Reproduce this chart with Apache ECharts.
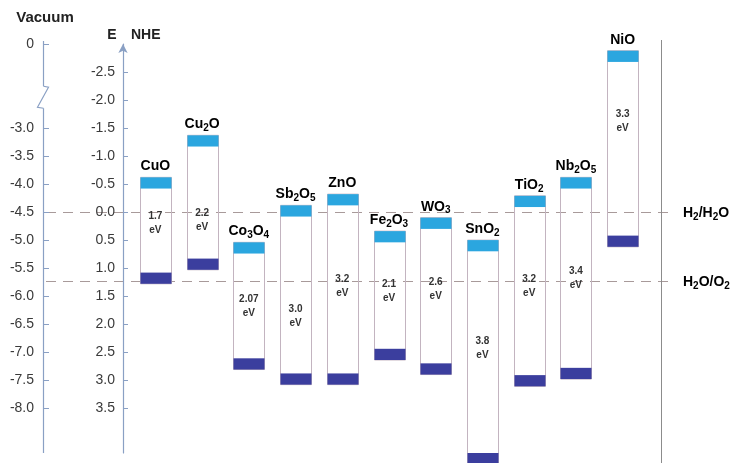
<!DOCTYPE html>
<html>
<head>
<meta charset="utf-8">
<script src="https://cdn.jsdelivr.net/npm/echarts@6/dist/echarts.min.js"></script>
<style>
  html, body { margin: 0; padding: 0; background: #ffffff; }
  #chart { width: 736px; height: 463px; }
</style>
</head>
<body>
<div id="chart"></div>
<script>
// Oxide semiconductors, left to right
const oxides = ['CuO', 'Cu2O', 'Co3O4', 'Sb2O5', 'ZnO', 'Fe2O3', 'WO3', 'SnO2', 'TiO2', 'Nb2O5', 'NiO'];
// Conduction band edge, V vs NHE
const conductionBand = [-0.52, -1.27, 0.64, -0.02, -0.22, 0.44, 0.20, 0.60, -0.19, -0.52, -2.78];
// Band gap, eV (valence band edge = conduction band edge + gap)
const bandGap = [1.7, 2.2, 2.07, 3.0, 3.2, 2.1, 2.6, 3.8, 3.2, 3.4, 3.3];
// Height of the band-gap caption inside each column, V vs NHE
const gapCaptionAt = [0.20, 0.14, 1.68, 1.86, 1.32, 1.42, 1.38, 2.43, 1.32, 1.18, -1.62];

// Axis ticks
const nheTicks = [-2.5, -2.0, -1.5, -1.0, -0.5, 0.0, 0.5, 1.0, 1.5, 2.0, 2.5, 3.0, 3.5];
const vacuumTicks = [-3.0, -3.5, -4.0, -4.5, -5.0, -5.5, -6.0, -6.5, -7.0, -7.5, -8.0];
const vacuumBreakLabel = '0';

// Water redox levels, V vs NHE
const redoxLevels = [0, 1.23];
const redoxNames = ['H2/H2O', 'H2O/O2'];

// Energy of NHE 0 on the vacuum scale
const NHE_ZERO_VACUUM = -4.5;
const NHE_MIN = -3.0, NHE_MAX = 4.3;
const VAC_TOP = NHE_ZERO_VACUUM - NHE_MIN;
const VAC_BOTTOM = NHE_ZERO_VACUUM - NHE_MAX;

const FONT = '"Liberation Sans", Arial, Helvetica, sans-serif';
const BAND_HALF = 0.1;          // half thickness of the band-edge strips (V)
const CB_COLOR = '#2ba6df';
const VB_COLOR = '#3b3e9e';
const AXIS_COLOR = '#8aa0c4';
const DASH_COLOR = '#a89a9a';

// Chemical formula -> rich text with subscript digits
function chem(s) {
  return s.split(/(\d+)/).filter(Boolean)
    .map(t => /^\d+$/.test(t) ? '{s|' + t + '}' : '{b|' + t + '}').join('');
}
const chemRich = {
  b: { fontFamily: FONT, fontSize: 14, fontWeight: 'bold', color: '#111111', lineHeight: 18 },
  s: { fontFamily: FONT, fontSize: 10, fontWeight: 'bold', color: '#111111', lineHeight: 18, verticalAlign: 'bottom' }
};
function gapText(v) {
  const t = String(v);
  return (t.indexOf('.') >= 0 ? t : v.toFixed(1)) + '\neV';
}

const chart = echarts.init(document.getElementById('chart'));

const option = {
  animation: false,
  backgroundColor: '#ffffff',
  grid: { left: 132, right: 90, top: 44, bottom: 10 },
  xAxis: { type: 'category', data: oxides, show: false, boundaryGap: true },
  yAxis: [
    {
      // Potential vs NHE
      type: 'value', inverse: true, min: NHE_MIN, max: NHE_MAX,
      position: 'left', offset: 9,
      axisLine: { show: true, lineStyle: { color: AXIS_COLOR, width: 1.2 },
                  symbol: ['none', 'arrow'], symbolSize: [7, 9] },
      axisTick: { show: true, inside: true, length: 5, customValues: nheTicks,
                  lineStyle: { color: AXIS_COLOR } },
      axisLabel: { customValues: nheTicks, margin: 8, fontFamily: FONT, fontSize: 14,
                   color: '#3a3a3a', formatter: v => v.toFixed(1) },
      splitLine: { show: false }
    },
    {
      // Energy vs vacuum (axis line drawn separately because of the break)
      type: 'value', min: VAC_BOTTOM, max: VAC_TOP,
      position: 'left', offset: 89,
      axisLine: { show: false },
      axisTick: { show: true, inside: true, length: 6, customValues: [VAC_TOP].concat(vacuumTicks),
                  lineStyle: { color: AXIS_COLOR } },
      axisLabel: { customValues: [VAC_TOP].concat(vacuumTicks), margin: 9, fontFamily: FONT, fontSize: 14,
                   color: '#3a3a3a',
                   formatter: v => Math.abs(v - VAC_TOP) < 1e-9 ? vacuumBreakLabel : v.toFixed(1) },
      splitLine: { show: false }
    }
  ],
  series: [{
    type: 'custom',
    xAxisIndex: 0, yAxisIndex: 0,
    clip: false,
    z: 3,
    data: oxides.map((n, i) => [i, conductionBand[i], conductionBand[i] + bandGap[i], gapCaptionAt[i]]),
    renderItem: function (params, api) {
      const i = api.value(0), cb = api.value(1), vb = api.value(2), capE = api.value(3);
      const bw = api.size([1, 0])[0] * 0.66;
      const top = api.coord([i, cb - BAND_HALF]);
      const cbBot = api.coord([i, cb + BAND_HALF]);
      const vbTop = api.coord([i, vb - BAND_HALF]);
      const bot = api.coord([i, vb + BAND_HALF]);
      const cap = api.coord([i, capE]);
      const x0 = Math.round(top[0] - bw / 2) + 0.5;
      const w = Math.round(bw);
      return {
        type: 'group',
        children: [
          { type: 'rect', shape: { x: x0, y: top[1], width: w, height: bot[1] - top[1] },
            style: { fill: 'none', stroke: '#c3b4c0', lineWidth: 1 } },
          { type: 'rect', shape: { x: x0, y: top[1], width: w, height: cbBot[1] - top[1] },
            style: { fill: CB_COLOR } },
          { type: 'rect', shape: { x: x0, y: vbTop[1], width: w, height: bot[1] - vbTop[1] },
            style: { fill: VB_COLOR } },
          { type: 'text', x: top[0], y: top[1] - 2,
            style: { text: chem(oxides[params.dataIndex]), rich: chemRich,
                     align: 'center', verticalAlign: 'bottom' } },
          { type: 'text', x: top[0], y: cap[1],
            style: { text: gapText(bandGap[params.dataIndex]), align: 'center', verticalAlign: 'middle',
                     fontFamily: FONT, fontSize: 10, fontWeight: 'bold', lineHeight: 14, fill: '#333333' } }
        ]
      };
    }
  }]
};
chart.setOption(option);

// Decorations placed from the axis scales
const nheY = v => chart.convertToPixel({ yAxisIndex: 0 }, v);
const vacY = v => chart.convertToPixel({ yAxisIndex: 1 }, v);
const vacX = 43.5;
const breakMid = nheY(-2.05);
const graphics = [];

// Broken vacuum axis
graphics.push({ type: 'line', z: 1, shape: { x1: vacX, y1: vacY(VAC_TOP) - 3, x2: vacX, y2: breakMid - 11 },
                style: { stroke: AXIS_COLOR, lineWidth: 1.2 } });
graphics.push({ type: 'polyline', z: 1,
                shape: { points: [[vacX, breakMid - 11], [vacX + 5, breakMid - 10], [vacX - 6, breakMid + 10], [vacX, breakMid + 11]] },
                style: { stroke: AXIS_COLOR, lineWidth: 1.2, fill: 'none' } });
graphics.push({ type: 'line', z: 1, shape: { x1: vacX, y1: breakMid + 11, x2: vacX, y2: vacY(VAC_BOTTOM) },
                style: { stroke: AXIS_COLOR, lineWidth: 1.2 } });

// Right frame line
graphics.push({ type: 'line', z: 1, shape: { x1: 661.5, y1: 40, x2: 661.5, y2: 463 },
                style: { stroke: '#8c8c8c', lineWidth: 1 } });

// Redox levels
redoxLevels.forEach((lv, k) => {
  const y = Math.round(nheY(lv)) + 0.5;
  graphics.push({ type: 'line', z: 0, shape: { x1: 46, y1: y, x2: 670, y2: y },
                  style: { stroke: DASH_COLOR, lineWidth: 1, lineDash: [10, 7] } });
  graphics.push({ type: 'text', z: 5, x: 683, y: y + 1,
                  style: { text: chem(redoxNames[k]), rich: chemRich, align: 'left', verticalAlign: 'middle' } });
});

// Axis titles
graphics.push({ type: 'text', z: 5, x: 45, y: 18,
                style: { text: 'Vacuum', fontFamily: FONT, fontSize: 15, fontWeight: 'bold', fill: '#222',
                         align: 'center', verticalAlign: 'middle' } });
graphics.push({ type: 'text', z: 5, x: 112, y: 35,
                style: { text: 'E', fontFamily: FONT, fontSize: 14, fontWeight: 'bold', fill: '#222',
                         align: 'center', verticalAlign: 'middle' } });
graphics.push({ type: 'text', z: 5, x: 131, y: 35,
                style: { text: 'NHE', fontFamily: FONT, fontSize: 14, fontWeight: 'bold', fill: '#222',
                         align: 'left', verticalAlign: 'middle' } });

chart.setOption({ graphic: { elements: graphics } });
</script>
</body>
</html>
